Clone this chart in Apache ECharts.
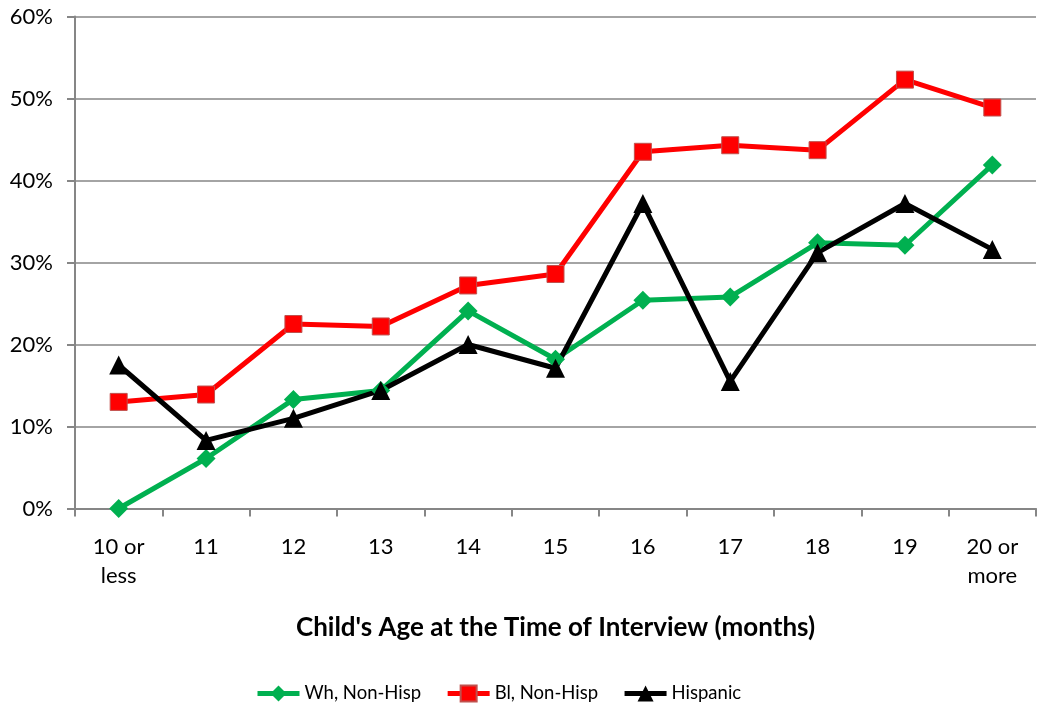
<!DOCTYPE html>
<html><head><meta charset="utf-8">
<script src="https://cdn.jsdelivr.net/npm/echarts@6/dist/echarts.min.js"></script>
<style>html,body{margin:0;padding:0;background:#fff}#c{width:1050px;height:713px}</style>
</head><body><div id="c"></div>
<script>
const categories = ['10 or\nless','11','12','13','14','15','16','17','18','19','20 or\nmore'];
const whNonHisp = [0, 6.1, 13.3, 14.4, 24.1, 18.2, 25.4, 25.8, 32.4, 32.1, 41.9];
const blNonHisp = [13.0, 13.9, 22.5, 22.2, 27.2, 28.6, 43.5, 44.3, 43.7, 52.3, 48.9];
const hispanic = [17.5, 8.3, 11.0, 14.4, 20.0, 17.1, 37.2, 15.5, 31.2, 37.2, 31.6];
const yTicks = [0, 10, 20, 30, 40, 50, 60];
const seriesNames = ['Wh, Non-Hisp', 'Bl, Non-Hisp', 'Hispanic'];
const xTitle = "Child's Age at the Time of Interview (months)";

const font = 'Lato, "Open Sans", sans-serif';
const chart = echarts.init(document.getElementById('c'), null, {renderer: 'canvas'});
chart.setOption({
  animation: false,
  grid: {left: 75, right: 14, top: 16.5, bottom: 204.5, containLabel: false},
  legend: {
    top: 679, left: 250, itemWidth: 42, itemHeight: 20, itemGap: 24,
    lineStyle: {width: 5},
    textStyle: {fontFamily: font, fontSize: 18.5, color: '#000'},
    data: seriesNames
  },
  xAxis: {
    type: 'category', data: categories, boundaryGap: true,
    name: xTitle, nameLocation: 'middle', nameGap: 106,
    nameTextStyle: {fontFamily: font, fontSize: 26, fontWeight: 'bold', color: '#000'},
    axisLine: {lineStyle: {color: '#868686', width: 2}},
    axisTick: {show: true, length: 8, lineStyle: {color: '#868686', width: 2}},
    axisLabel: {fontFamily: font, fontSize: 22, color: '#000', margin: 24, lineHeight: 29}
  },
  yAxis: {
    type: 'value', min: yTicks[0], max: yTicks[yTicks.length-1], interval: 10,
    axisLine: {show: true, lineStyle: {color: '#868686', width: 2}},
    axisTick: {show: true, length: 8, lineStyle: {color: '#868686', width: 2}},
    splitLine: {lineStyle: {color: '#868686', width: 1.5}},
    axisLabel: {fontFamily: font, fontSize: 22, color: '#000', margin: 22, formatter: v => v + '%'}
  },
  series: [
    {name: seriesNames[0], type: 'line', data: whNonHisp, symbol: 'diamond', symbolSize: 19,
     lineStyle: {color: '#00b050', width: 5}, itemStyle: {color: '#00b050'}},
    {name: seriesNames[1], type: 'line', data: blNonHisp, symbol: 'rect', symbolSize: 17,
     lineStyle: {color: '#ff0000', width: 5}, itemStyle: {color: '#ff0000', borderColor: '#c0504d', borderWidth: 1}},
    {name: seriesNames[2], type: 'line', data: hispanic, symbol: 'triangle', symbolSize: 19,
     lineStyle: {color: '#000', width: 5}, itemStyle: {color: '#000'}}
  ]
});
</script></body></html>
